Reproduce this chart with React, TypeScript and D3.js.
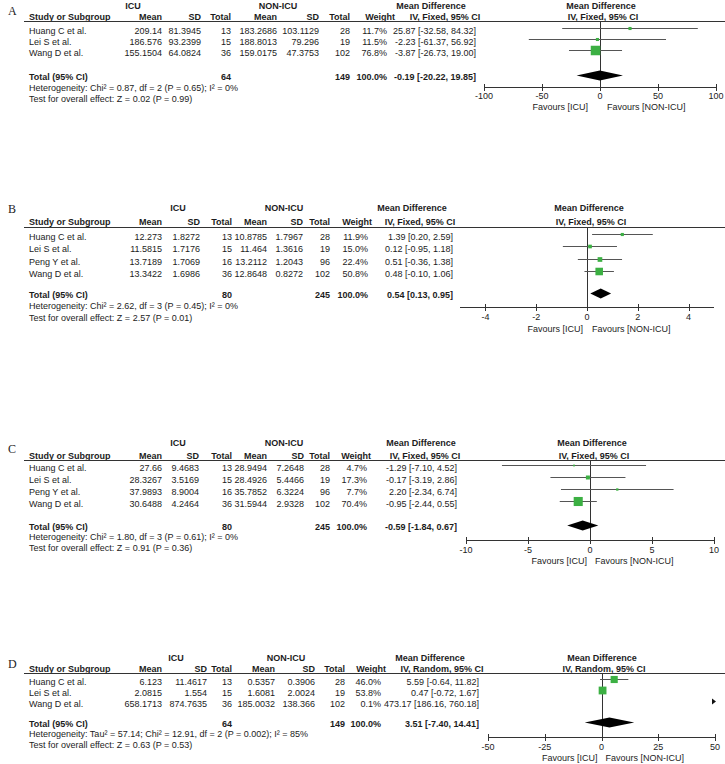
import React from "react";
import * as d3 from "d3";

// ---------- Panel A ----------
const studiesA = ["Huang C et al.", "Lei S et al.", "Wang D et al."];
const icuMeanA = [209.14, 186.576, 155.1504];
const icuSdA = [81.3945, 93.2399, 64.0824];
const icuNA = [13, 15, 36];
const nonMeanA = [183.2686, 188.8013, 159.0175];
const nonSdA = [103.1129, 79.296, 47.3753];
const nonNA = [28, 19, 102];
const weightA = [11.7, 11.5, 76.8];
const mdA = [25.87, -2.23, -3.87];
const loA = [-32.58, -61.37, -26.73];
const hiA = [84.32, 56.92, 19.0];
const overallA = [-0.19, -20.22, 19.85];
const domainA = [-100, 100];
const ticksA = [-100, -50, 0, 50, 100];
const hetA = "Heterogeneity: Chi² = 0.87, df = 2 (P = 0.65); I² = 0%";
const testA = "Test for overall effect: Z = 0.02 (P = 0.99)";

// ---------- Panel B ----------
const studiesB = ["Huang C et al.", "Lei S et al.", "Peng Y et al.", "Wang D et al."];
const icuMeanB = [12.273, 11.5815, 13.7189, 13.3422];
const icuSdB = [1.8272, 1.7176, 1.7069, 1.6986];
const icuNB = [13, 15, 16, 36];
const nonMeanB = [10.8785, 11.464, 13.2112, 12.8648];
const nonSdB = [1.7967, 1.3616, 1.2043, 0.8272];
const nonNB = [28, 19, 96, 102];
const weightB = [11.9, 15.0, 22.4, 50.8];
const mdB = [1.39, 0.12, 0.51, 0.48];
const loB = [0.2, -0.95, -0.36, -0.1];
const hiB = [2.59, 1.18, 1.38, 1.06];
const overallB = [0.54, 0.13, 0.95];
const domainB = [-5, 5];
const ticksB = [-4, -2, 0, 2, 4];
const hetB = "Heterogeneity: Chi² = 2.62, df = 3 (P = 0.45); I² = 0%";
const testB = "Test for overall effect: Z = 2.57 (P = 0.01)";

// ---------- Panel C ----------
const studiesC = ["Huang C et al.", "Lei S et al.", "Peng Y et al.", "Wang D et al."];
const icuMeanC = [27.66, 28.3267, 37.9893, 30.6488];
const icuSdC = [9.4683, 3.5169, 8.9004, 4.2464];
const icuNC = [13, 15, 16, 36];
const nonMeanC = [28.9494, 28.4926, 35.7852, 31.5944];
const nonSdC = [7.2648, 5.4466, 6.3224, 2.9328];
const nonNC = [28, 19, 96, 102];
const weightC = [4.7, 17.3, 7.7, 70.4];
const mdC = [-1.29, -0.17, 2.2, -0.95];
const loC = [-7.1, -3.19, -2.34, -2.44];
const hiC = [4.52, 2.86, 6.74, 0.55];
const overallC = [-0.59, -1.84, 0.67];
const domainC = [-10, 10];
const ticksC = [-10, -5, 0, 5, 10];
const hetC = "Heterogeneity: Chi² = 1.80, df = 3 (P = 0.61); I² = 0%";
const testC = "Test for overall effect: Z = 0.91 (P = 0.36)";

// ---------- Panel D ----------
const studiesD = ["Huang C et al.", "Lei S et al.", "Wang D et al."];
const icuMeanD = [6.123, 2.0815, 658.1713];
const icuSdD = [11.4617, 1.554, 874.7635];
const icuND = [13, 15, 36];
const nonMeanD = [0.5357, 1.6081, 185.0032];
const nonSdD = [0.3906, 2.0024, 138.366];
const nonND = [28, 19, 102];
const weightD = [46.0, 53.8, 0.1];
const mdD = [5.59, 0.47, 473.17];
const loD = [-0.64, -0.72, 186.16];
const hiD = [11.82, 1.67, 760.18];
const overallD = [3.51, -7.4, 14.41];
const domainD = [-50, 50];
const ticksD = [-50, -25, 0, 25, 50];
const hetD = "Heterogeneity: Tau² = 57.14; Chi² = 12.91, df = 2 (P = 0.002); I² = 85%";
const testD = "Test for overall effect: Z = 0.63 (P = 0.53)";

// ---------- Layouts ----------
const layoutA = {
  labelY: 11, groupY: 6, headY: 17, lineY: 21, rowY0: 31, rowStep: 11, totalY: 77, hetY: 88, testY: 99,
  axisY: 87, tickY: 96, favY: 107, cols: [162, 201, 231, 277, 319, 350], wt: 387, wtHead: 395,
  ciRight: 476, mdHead: 431, ciHead: 445, icu: 133, non: 278, plotHead: 601, range: [484, 716], favL: -12, favR: 7,
};
const layoutB = {
  labelY: 209, groupY: 208, headY: 222, lineY: 227, rowY0: 237, rowStep: 12.3, totalY: 295, hetY: 306, testY: 318,
  axisY: 307, tickY: 317, favY: 329, cols: [162, 200, 232, 267, 303, 330], wt: 368, wtHead: 372,
  ciRight: 453, mdHead: 412, ciHead: 420, icu: 178, non: 284, plotHead: 589, range: [460, 714], favL: -4, favR: 5,
};
const layoutC = {
  labelY: 449, groupY: 443, headY: 456, lineY: 460, rowY0: 468, rowStep: 12, totalY: 527, hetY: 537, testY: 548,
  axisY: 540, tickY: 550, favY: 561, cols: [162, 199, 232, 267, 304, 330], wt: 367, wtHead: 371,
  ciRight: 457, mdHead: 421, ciHead: 425, icu: 178, non: 284, plotHead: 592, range: [466, 714], favL: -3, favR: 5,
};
const layoutD = {
  labelY: 664, groupY: 658, headY: 669, lineY: 673, rowY0: 682, rowStep: 11, totalY: 724, hetY: 734, testY: 745,
  axisY: 737, tickY: 747, favY: 758, cols: [162, 207, 232, 275, 315, 345], wt: 381, wtHead: 386,
  ciRight: 479, mdHead: 430, ciHead: 442, icu: 176, non: 286, plotHead: 602, range: [488, 715], favL: -4, favR: 4,
};

const panels = [
  { label: "A", model: "Fixed", studies: studiesA, icuMean: icuMeanA, icuSd: icuSdA, icuN: icuNA, nonMean: nonMeanA, nonSd: nonSdA, nonN: nonNA, weight: weightA, md: mdA, lo: loA, hi: hiA, overall: overallA, domain: domainA, ticks: ticksA, het: hetA, test: testA, L: layoutA },
  { label: "B", model: "Fixed", studies: studiesB, icuMean: icuMeanB, icuSd: icuSdB, icuN: icuNB, nonMean: nonMeanB, nonSd: nonSdB, nonN: nonNB, weight: weightB, md: mdB, lo: loB, hi: hiB, overall: overallB, domain: domainB, ticks: ticksB, het: hetB, test: testB, L: layoutB },
  { label: "C", model: "Fixed", studies: studiesC, icuMean: icuMeanC, icuSd: icuSdC, icuN: icuNC, nonMean: nonMeanC, nonSd: nonSdC, nonN: nonNC, weight: weightC, md: mdC, lo: loC, hi: hiC, overall: overallC, domain: domainC, ticks: ticksC, het: hetC, test: testC, L: layoutC },
  { label: "D", model: "Random", studies: studiesD, icuMean: icuMeanD, icuSd: icuSdD, icuN: icuND, nonMean: nonMeanD, nonSd: nonSdD, nonN: nonND, weight: weightD, md: mdD, lo: loD, hi: hiD, overall: overallD, domain: domainD, ticks: ticksD, het: hetD, test: testD, L: layoutD },
];

const FONT = "'Liberation Sans', Arial, Helvetica, sans-serif";
const TXT = "#1c1c1c";
const GREEN = "#3cb043";
const FS = 9;

const sizeScale = d3.scaleSqrt().domain([0, 100]).range([0, 12]);
const fmtCI = (m: number, l: number, h: number) => `${m.toFixed(2)} [${l.toFixed(2)}, ${h.toFixed(2)}]`;

function T(props: any) {
  const { x, y, anchor = "start", bold = false, children, size = FS, family = FONT } = props;
  return (
    <text x={x} y={y} dy="0.35em" textAnchor={anchor} fontFamily={family} fontSize={size}
      fontWeight={bold ? "bold" : "normal"} fill={TXT}>{children}</text>
  );
}

function Panel({ p }: { p: any }) {
  const L = p.L;
  const x = d3.scaleLinear().domain(p.domain).range(L.range);
  const zero = x(0);
  const rowY = (i: number) => L.rowY0 + i * L.rowStep;
  const totIcu = d3.sum(p.icuN as number[]);
  const totNon = d3.sum(p.nonN as number[]);
  const [dMin, dMax] = p.domain;
  const crisp = (v: number) => Math.round(v) + 0.5;

  return (
    <g>
      <T x={8} y={L.labelY} size={12} family="'Liberation Serif', 'DejaVu Serif', serif">{p.label}</T>
      {/* group headers */}
      <T x={L.icu} y={L.groupY} anchor="middle" bold>ICU</T>
      <T x={L.non} y={L.groupY} anchor="middle" bold>NON-ICU</T>
      <T x={L.mdHead} y={L.groupY} anchor="middle" bold>Mean Difference</T>
      <T x={L.plotHead} y={L.groupY} anchor="middle" bold>Mean Difference</T>
      {/* column headers */}
      <T x={29} y={L.headY} bold>Study or Subgroup</T>
      {["Mean", "SD", "Total", "Mean", "SD", "Total"].map((h, i) => (
        <T key={i} x={L.cols[i]} y={L.headY} anchor="end" bold>{h}</T>
      ))}
      <T x={L.wtHead} y={L.headY} anchor="end" bold>Weight</T>
      <T x={L.ciHead} y={L.headY} anchor="middle" bold>{`IV, ${p.model}, 95% CI`}</T>
      <T x={L.plotHead + 2} y={L.headY} anchor="middle" bold>{`IV, ${p.model}, 95% CI`}</T>
      <line x1={24} x2={725} y1={crisp(L.lineY)} y2={crisp(L.lineY)} stroke="#333" strokeWidth={1} />

      {/* study rows */}
      {p.studies.map((s: string, i: number) => {
        const y = rowY(i);
        const vals = [p.icuMean[i], p.icuSd[i], p.icuN[i], p.nonMean[i], p.nonSd[i], p.nonN[i]];
        return (
          <g key={s}>
            <T x={29} y={y}>{s}</T>
            {vals.map((v, j) => (
              <T key={j} x={L.cols[j]} y={y} anchor="end">{String(v)}</T>
            ))}
            <T x={L.wt} y={y} anchor="end">{p.weight[i].toFixed(1) + "%"}</T>
            <T x={L.ciRight} y={y} anchor="end">{fmtCI(p.md[i], p.lo[i], p.hi[i])}</T>
          </g>
        );
      })}

      {/* total rows */}
      <T x={29} y={L.totalY} bold>Total (95% CI)</T>
      <T x={L.cols[2]} y={L.totalY} anchor="end" bold>{String(totIcu)}</T>
      <T x={L.cols[5]} y={L.totalY} anchor="end" bold>{String(totNon)}</T>
      <T x={L.wt} y={L.totalY} anchor="end" bold>100.0%</T>
      <T x={L.ciRight} y={L.totalY} anchor="end" bold>{fmtCI(p.overall[0], p.overall[1], p.overall[2])}</T>
      <T x={29} y={L.hetY}>{p.het}</T>
      <T x={29} y={L.testY}>{p.test}</T>

      {/* plot */}
      <line x1={crisp(zero)} x2={crisp(zero)} y1={L.lineY} y2={L.axisY} stroke="#333" strokeWidth={1} />
      {p.studies.map((s: string, i: number) => {
        const y = crisp(rowY(i) - 3);
        const lo = Math.max(p.lo[i], dMin);
        const hi = Math.min(p.hi[i], dMax);
        const inRange = p.md[i] >= dMin && p.md[i] <= dMax;
        const sz = Math.max(1.8, sizeScale(p.weight[i]) - 1);
        if (p.lo[i] > dMax) {
          const ax = x(dMax);
          return <path key={s} d={`M${ax - 3},${y - 3}L${ax + 1},${y}L${ax - 3},${y + 3}Z`} fill="#111" />;
        }
        return (
          <g key={s}>
            {lo < hi && <line x1={x(lo)} x2={x(hi)} y1={y} y2={y} stroke="#555" strokeWidth={1} />}
            {inRange && <rect x={x(p.md[i]) - sz / 2} y={y - sz / 2} width={sz} height={sz} fill={GREEN} />}
          </g>
        );
      })}
      {(() => {
        const y = L.totalY - 1.5;
        const [m, l, h] = p.overall;
        return <path d={`M${x(l)},${y}L${x(m)},${y - 5}L${x(h)},${y}L${x(m)},${y + 5}Z`} fill="#000" />;
      })()}
      {/* axis */}
      <line x1={L.range[0]} x2={L.range[1]} y1={crisp(L.axisY)} y2={crisp(L.axisY)} stroke="#333" strokeWidth={1} />
      {p.ticks.map((t: number) => (
        <g key={t}>
          <line x1={crisp(x(t))} x2={crisp(x(t))} y1={L.axisY - 3} y2={L.axisY + 4} stroke="#333" strokeWidth={1} />
          <T x={x(t)} y={L.tickY} anchor="middle">{String(t)}</T>
        </g>
      ))}
      <T x={zero + L.favL} y={L.favY} anchor="end">Favours [ICU]</T>
      <T x={zero + L.favR} y={L.favY}>Favours [NON-ICU]</T>
    </g>
  );
}

export default function App() {
  return (
    <svg width={725} height={764} viewBox="0 0 725 764"
      style={{ position: "absolute", left: 0, top: 0, background: "#fff" }}>
      <rect width={725} height={764} fill="#fff" />
      {panels.map((p) => <Panel key={p.label} p={p} />)}
    </svg>
  );
}
